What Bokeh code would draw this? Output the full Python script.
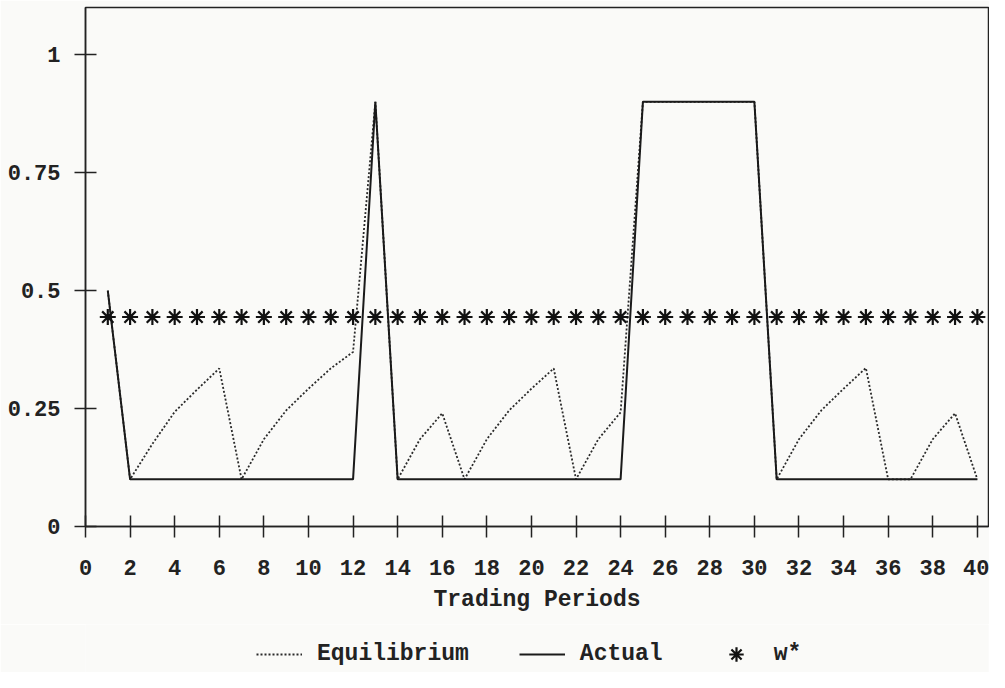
from bokeh.plotting import figure
from bokeh.layouts import column
from bokeh.models import Range1d, FixedTicker, Legend, LegendItem
from bokeh.embed import file_html
from bokeh.resources import INLINE

# ---- data ----
periods = list(range(1, 41))
equilibrium = [0.5, 0.1, 0.175, 0.243, 0.29, 0.335, 0.1, 0.185, 0.246, 0.292,
               0.335, 0.37, 0.9, 0.1, 0.185, 0.24, 0.1, 0.185, 0.246, 0.292,
               0.335, 0.1, 0.185, 0.242, 0.9, 0.9, 0.9, 0.9, 0.9, 0.9,
               0.1, 0.185, 0.246, 0.292, 0.336, 0.1, 0.1, 0.185, 0.24, 0.1]
actual = [0.5, 0.1, 0.1, 0.1, 0.1, 0.1, 0.1, 0.1, 0.1, 0.1,
          0.1, 0.1, 0.9, 0.1, 0.1, 0.1, 0.1, 0.1, 0.1, 0.1,
          0.1, 0.1, 0.1, 0.1, 0.9, 0.9, 0.9, 0.9, 0.9, 0.9,
          0.1, 0.1, 0.1, 0.1, 0.1, 0.1, 0.1, 0.1, 0.1, 0.1]
w_star = [0.444, 0.444, 0.444, 0.444, 0.444, 0.444, 0.444, 0.444, 0.444, 0.444,
          0.444, 0.444, 0.444, 0.444, 0.444, 0.444, 0.444, 0.444, 0.444, 0.444,
          0.444, 0.444, 0.444, 0.444, 0.444, 0.444, 0.444, 0.444, 0.444, 0.444,
          0.444, 0.444, 0.444, 0.444, 0.444, 0.444, 0.444, 0.444, 0.444, 0.444]
x_ticks = list(range(0, 41, 2))
y_ticks = [0, 0.25, 0.5, 0.75, 1]
y_tick_labels = ["0", "0.25", "0.5", "0.75", "1"]
series_labels = ["Equilibrium", "Actual", "w*"]
x_title = "Trading Periods"

FONT = "Liberation Mono"
BG = "#fafaf8"
INK = "#222222"

EQ_STYLE = dict(line_color="#2a2a2a", line_width=1.8, line_dash="2 2")
ACT_STYLE = dict(line_color="#1a1a1a", line_width=2)
W_STYLE = dict(marker="asterisk", size=16, line_color="#111111", line_width=2.2)

# ---- main chart ----
p = figure(width=989, height=624,
           x_range=Range1d(0, 40.5), y_range=Range1d(0, 1.1),
           output_backend="svg", toolbar_location=None,
           min_border_left=85, min_border_right=1, min_border_top=7,
           min_border_bottom=98)
p.background_fill_color = BG
p.border_fill_color = BG
p.outline_line_color = INK
p.outline_line_width = 1.5
p.xgrid.visible = False
p.ygrid.visible = False

p.line(periods, equilibrium, **EQ_STYLE)
p.line(periods, actual, **ACT_STYLE)
p.scatter(periods, w_star, **W_STYLE)

for ax in (p.xaxis[0], p.yaxis[0]):
    ax.axis_line_width = 1.5
    ax.axis_line_color = INK
    ax.major_tick_line_width = 1.5
    ax.major_tick_line_color = INK
    ax.major_tick_in = 11
    ax.major_tick_out = 11
    ax.minor_tick_line_color = None
    ax.major_label_text_font = FONT
    ax.major_label_text_font_size = "22px"
    ax.major_label_text_font_style = "bold"
    ax.major_label_text_color = INK

p.xaxis[0].ticker = FixedTicker(ticks=x_ticks)
p.xaxis[0].major_label_standoff = 22
p.xaxis[0].axis_label = x_title
p.xaxis[0].axis_label_text_font = FONT
p.xaxis[0].axis_label_text_font_size = "23px"
p.xaxis[0].axis_label_text_font_style = "bold"
p.xaxis[0].axis_label_text_color = INK
p.xaxis[0].axis_label_standoff = 9

p.yaxis[0].ticker = FixedTicker(ticks=y_ticks)
p.yaxis[0].major_label_overrides = {t: l for t, l in zip(y_ticks, y_tick_labels)}
p.yaxis[0].major_label_standoff = 14

# ---- legend strip (series drawn off-range so only the legend shows) ----
q = figure(width=989, height=48, x_range=Range1d(100, 101), y_range=Range1d(0, 1),
           output_backend="svg", toolbar_location=None, min_border=0)
q.axis.visible = False
q.xgrid.visible = False
q.ygrid.visible = False
q.outline_line_color = None
q.background_fill_color = BG
q.border_fill_color = BG
le = q.line(periods, equilibrium, **EQ_STYLE)
la = q.line(periods, actual, **ACT_STYLE)
lw = q.scatter(periods, w_star, **W_STYLE)

legend = Legend(items=[LegendItem(label=series_labels[0], renderers=[le]),
                       LegendItem(label=series_labels[1], renderers=[la]),
                       LegendItem(label=series_labels[2], renderers=[lw])],
                orientation="horizontal", location=(171, 0),
                padding=0, margin=0, spacing=50, glyph_width=46,
                glyph_height=36, label_standoff=15, border_line_color=None,
                background_fill_alpha=0)
legend.label_text_font = FONT
legend.label_text_font_size = "23px"
legend.label_text_font_style = "bold"
legend.label_text_color = INK
q.add_layout(legend)

layout = column(p, q, spacing=0)
open("out.html", "w").write(file_html(layout, INLINE))
